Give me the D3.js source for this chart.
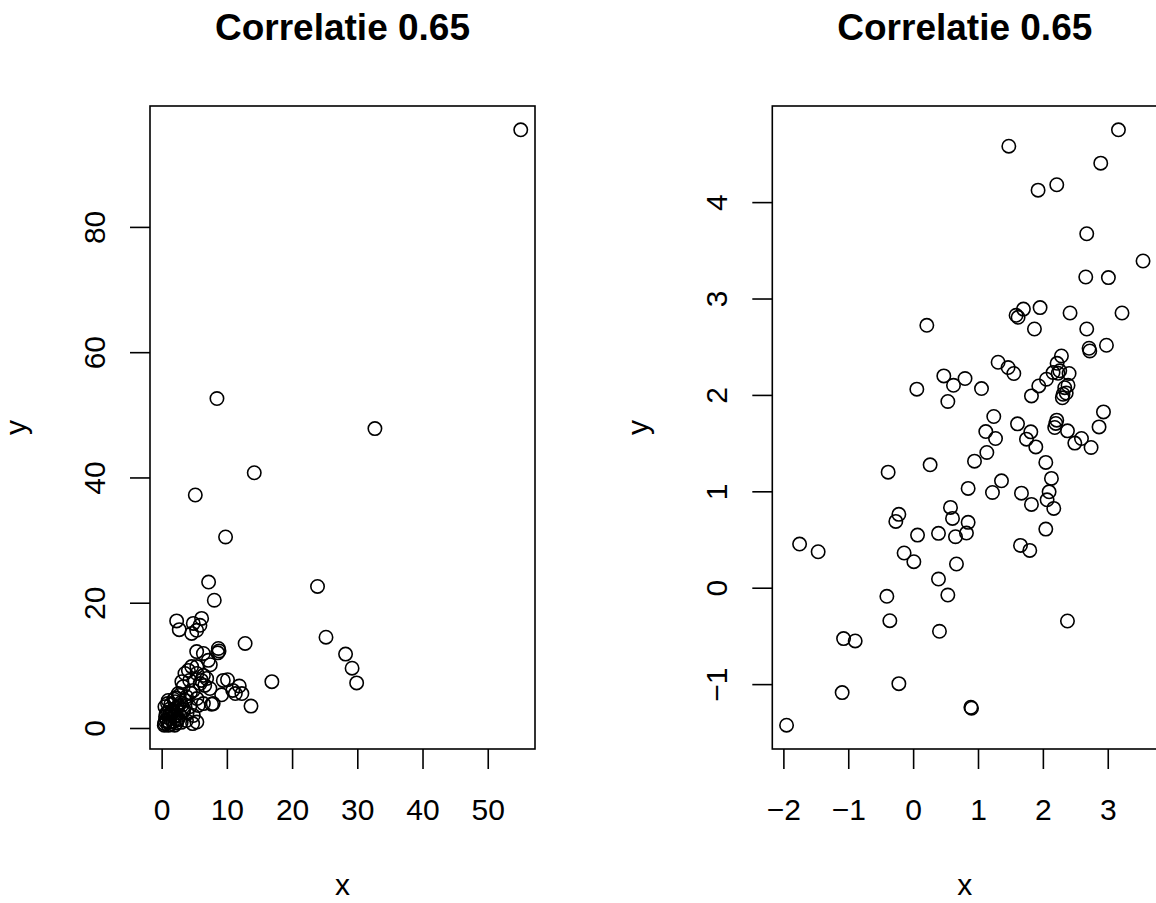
<!DOCTYPE html>
<html>
<head>
<meta charset="utf-8">
<script src="https://cdn.jsdelivr.net/npm/d3@7"></script>
<style>
  body { margin: 0; background: white; }
  text { font-family: "Liberation Sans", Arial, Helvetica, sans-serif; fill: black; }
</style>
</head>
<body>
<div id="chart"></div>
<script>
// left panel: skewed data
let leftX = [55.06, 8.48, 32.7, 14.2, 5.16, 9.8, 7.2, 23.9, 8.07, 2.3, 2.7, 4.85, 6.13, 5.87, 5.37, 4.6,
  25.2, 12.8, 28.2, 29.2, 29.9, 16.9, 8.7, 8.8, 8.6, 5.37, 6.4, 7.15, 7.46, 10.1, 11.9, 12.3, 11.3,
  13.7, 9.2, 7.67, 4.75, 9.45, 10.9, 7.9, 4.6, 3.57, 5.4, 6.4, 4.3, 5.9, 6.6, 7.4, 4.85, 3.3, 2.55,
  3.8, 5.4, 6.4, 1.0, 2.04, 3.07, 4.3, 0.5, 1.8, 3.3, 4.85, 0.6, 1.3, 2.55, 3.8, 0.45, 1.0, 2.0, 0.4,
  5.4, 1.3, 3.0, 4.1, 5.4, 3.1, 6.1, 6.9, 5.6, 1.5, 2.2, 0.8, 1.7, 2.8, 1.2, 2.6, 3.6, 0.9, 1.9, 2.3,
  0.7, 1.4, 2.1, 2.9, 3.4, 1.1, 1.6, 2.4, 0.55, 1.9, 2.7, 3.9, 1.2, 0.9, 2.2, 4.4];
let leftY = [95.5, 52.6, 47.8, 40.75, 37.2, 30.5, 23.3, 22.6, 20.4, 17.1, 15.7, 16.7, 17.5, 16.4, 15.6, 15.1,
  14.5, 13.5, 11.8, 9.55, 7.2, 7.4, 12.7, 12.3, 12.0, 12.2, 11.9, 10.8, 10.1, 7.7, 6.7, 5.5, 5.5,
  3.5, 5.3, 3.8, 0.7, 7.6, 6.0, 3.9, 9.8, 8.7, 8.7, 8.4, 7.6, 7.1, 6.8, 6.3, 6.0, 6.6, 5.5,
  5.0, 4.7, 3.9, 4.4, 4.2, 3.6, 3.4, 3.4, 2.8, 2.6, 2.0, 1.8, 1.5, 1.5, 1.2, 0.7, 0.45, 0.45, 0.45,
  0.95, 0.5, 0.9, 9.2, 9.8, 7.4, 7.6, 7.9, 3.6, 2.2, 3.2, 1.2, 1.0, 2.0, 3.0, 3.6, 4.4, 2.5, 1.8, 0.8,
  2.3, 3.8, 4.8, 4.0, 2.9, 0.9, 2.6, 1.3, 1.1, 4.6, 5.2, 2.4, 2.0, 3.9, 1.9, 5.6];

// right panel: normal data
let rightX = [3.165, 1.475, 2.892, 1.926, 2.214, 2.676, 3.544, 2.661, 3.01, 1.70, 1.957, 1.587, 1.618, 2.419,
  3.22, 0.211, 1.87, 2.676, 2.712, 2.723, 2.98, 2.286, 2.219, 1.31, 1.464, 1.552, 2.234, 2.404, 2.055,
  1.937, 2.388, 0.473, 0.80, 0.622, 0.057, 1.054, 0.535, 1.824, 2.311, 2.26, 2.157, 2.337, 2.36, 2.30,
  1.243, 1.12, 1.27, 1.136, 0.946, 1.609, 1.814, 1.747, 1.891, 2.214, 2.199, 2.183, 2.379, 2.595, 2.492,
  2.743, 2.934, 2.866, 2.045, 2.132, 2.096, 2.065, 2.168, 2.045, 1.67, 1.824, 1.362, 1.223, 0.848, 0.262,
  -0.385, 1.655, 1.798, 0.576, 0.607, 0.848, 0.822, 0.653, 0.391, 0.068, -0.22, -0.267, -0.139, 0.011,
  0.668, 0.391, 0.535, -0.405, -0.359, 0.406, 2.379, -1.75, -1.464, -1.072, -0.893, -0.22, -1.094,
  0.89, 0.9, -1.951];
let rightY = [4.75, 4.58, 4.404, 4.124, 4.18, 3.672, 3.389, 3.223, 3.217, 2.89, 2.906, 2.826, 2.805, 2.85,
  2.85, 2.722, 2.684, 2.684, 2.484, 2.456, 2.515, 2.404, 2.328, 2.339, 2.284, 2.222, 2.225, 2.222, 2.163,
  2.093, 2.1, 2.197, 2.17, 2.10, 2.06, 2.066, 1.932, 1.99, 2.007, 2.25, 2.232, 2.075, 2.02, 1.97,
  1.776, 1.62, 1.548, 1.403, 1.313, 1.70, 1.617, 1.541, 1.461, 1.738, 1.704, 1.662, 1.627, 1.548, 1.50,
  1.455, 1.824, 1.668, 1.30, 1.134, 0.995, 0.912, 0.823, 0.608, 0.981, 0.864, 1.109, 0.988, 1.03, 1.275,
  1.199, 0.439, 0.387, 0.833, 0.719, 0.678, 0.567, 0.529, 0.564, 0.546, 0.761, 0.688, 0.36, 0.27,
  0.246, 0.09, -0.076, -0.089, -0.342, -0.452, -0.345, 0.453, 0.373, -0.528, -0.552, -0.995, -1.088,
  -1.24, -1.25, -1.426];

let leftXTicks = [0, 10, 20, 30, 40, 50],
    leftYTicks = [0, 20, 40, 60, 80],
    rightXTicks = [-2, -1, 0, 1, 2, 3],
    rightYTicks = [-1, 0, 1, 2, 3, 4];

let title = "Correlatie 0.65";

let width = 1156, height = 903;

let svg = d3.select("#chart").append("svg")
  .attr("width", width)
  .attr("height", height)
  .style("display", "block");

// R style: pad the data range by 4% on each side
let padded = function(vals) {
  let e = d3.extent(vals), p = (e[1] - e[0]) * 0.04;
  return [e[0] - p, e[1] + p];
};

let fmt = v => (v < 0 ? "\u2212" + Math.abs(v) : String(v));

function panel(left, xs, ys, xTicks, yTicks) {
  let top = 106, bottom = 749, right = left + 385;

  let x = d3.scaleLinear().domain(padded(xs)).range([left, right]);
  let y = d3.scaleLinear().domain(padded(ys)).range([bottom, top]);

  let g = svg.append("g");

  // points
  g.selectAll("circle")
    .data(xs.map((d, i) => [d, ys[i]]))
    .enter().append("circle")
      .attr("cx", d => x(d[0]))
      .attr("cy", d => y(d[1]))
      .attr("r", 6.7)
      .attr("fill", "none")
      .attr("stroke", "black")
      .attr("stroke-width", 1.6);

  // box
  g.append("rect")
    .attr("x", left).attr("y", top)
    .attr("width", right - left).attr("height", bottom - top)
    .attr("fill", "none")
    .attr("stroke", "black")
    .attr("stroke-width", 1.6);

  // x axis
  let xa = g.append("g").attr("transform", `translate(0,${bottom})`)
    .call(d3.axisBottom(x).tickValues(xTicks).tickSize(20).tickPadding(0).tickFormat(fmt));
  xa.select(".domain").remove();
  xa.selectAll("line").attr("stroke", "black").attr("stroke-width", 1.6);
  xa.selectAll("text")
    .attr("y", 71).attr("dy", null)
    .style("font-size", "30px")
    .style("font-family", "'Liberation Sans', Arial, sans-serif")
    .attr("fill", "black");

  // y axis with rotated labels
  let ya = g.append("g").attr("transform", `translate(${left},0)`)
    .call(d3.axisLeft(y).tickValues(yTicks).tickSize(20).tickPadding(0).tickFormat(fmt));
  ya.select(".domain").remove();
  ya.selectAll("line").attr("stroke", "black").attr("stroke-width", 1.6);
  ya.selectAll("text")
    .attr("x", null).attr("dy", null)
    .attr("transform", "translate(-45,0) rotate(-90)")
    .attr("text-anchor", "middle")
    .style("font-size", "30px")
    .style("font-family", "'Liberation Sans', Arial, sans-serif")
    .attr("fill", "black");

  let mid = (left + right) / 2;

  g.append("text")
    .attr("x", mid).attr("y", 40)
    .attr("text-anchor", "middle")
    .style("font-size", "37px")
    .style("font-weight", "bold")
    .text(title);

  g.append("text")
    .attr("x", mid).attr("y", 895)
    .attr("text-anchor", "middle")
    .style("font-size", "30px")
    .text("x");

  g.append("text")
    .attr("transform", `translate(${left - 124},${(top + bottom) / 2}) rotate(-90)`)
    .attr("text-anchor", "middle")
    .style("font-size", "30px")
    .text("y");
}

panel(150, leftX, leftY, leftXTicks, leftYTicks);
panel(772.3, rightX, rightY, rightXTicks, rightYTicks);
</script>
</body>
</html>
